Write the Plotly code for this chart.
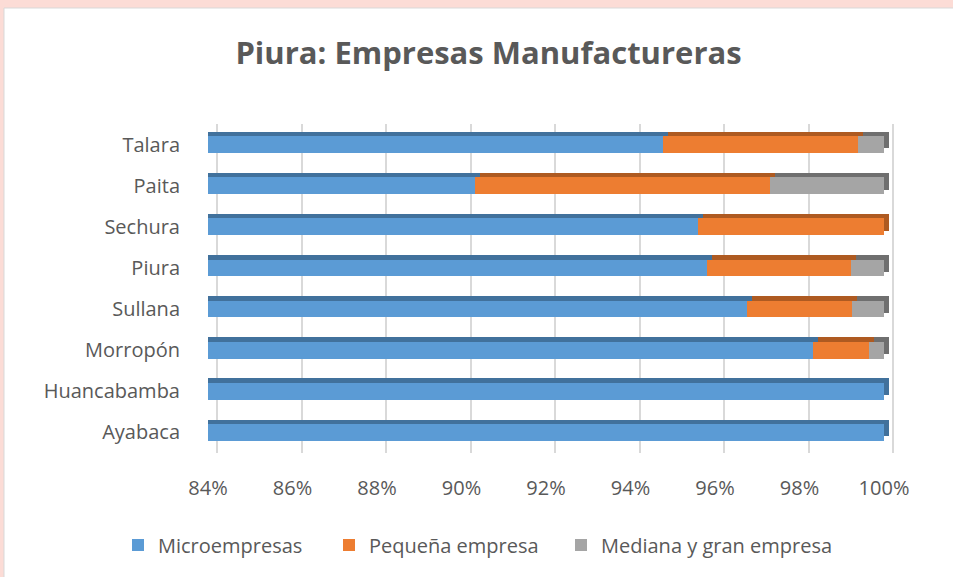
import plotly.graph_objects as go

categories = ["Ayabaca", "Huancabamba", "Morropón", "Sullana", "Piura", "Sechura", "Paita", "Talara"]
micro = [100.0, 100.0, 98.32, 96.76, 95.81, 95.60, 90.32, 94.77]
pequena = [0.0, 0.0, 1.33, 2.48, 3.42, 4.40, 6.98, 4.61]
mediana = [0.0, 0.0, 0.35, 0.76, 0.77, 0.0, 2.70, 0.62]
series_names = ["Microempresas", "Pequeña empresa", "Mediana y gran empresa"]
tick_vals = [84, 86, 88, 90, 92, 94, 96, 98, 100]
tick_text = ["84%", "86%", "88%", "90%", "92%", "94%", "96%", "98%", "100%"]

front_colors = ["#5B9BD5", "#ED7D31", "#A5A5A5"]
depth_colors = ["#41719C", "#AE5A21", "#6F6F6F"]

W, H = 953, 577
ML, MR, MT, MB = 208, 53, 124, 124
plot_w = W - ML - MR
px_per_unit = 676 / 16.0
x_lo = 84.0
x_hi = x_lo + plot_w / px_per_unit
plot_h = H - MT - MB
px_per_cat = plot_h / 8.0

depth_dx = 5 / px_per_unit
depth_dy = 4.5 / px_per_cat
grid_dx = 9 / px_per_unit

fig = go.Figure()
values = [micro, pequena, mediana]
legend_ids = ["legend", "legend2", "legend3"]
legend_text_x = [158, 369, 601]

# depth (3D top/side) bars on the main axes, drawn beneath
for vals, name, c in zip(values, series_names, depth_colors):
    fig.add_trace(go.Bar(y=categories, x=vals, orientation="h", name=name,
                         marker=dict(color=c, line=dict(width=0)),
                         showlegend=False, hoverinfo="skip",
                         xaxis="x", yaxis="y"))
# front faces
for vals, name, c, lg in zip(values, series_names, front_colors, legend_ids):
    fig.add_trace(go.Bar(y=categories, x=vals, orientation="h", name=name,
                         marker=dict(color=c, line=dict(width=0)),
                         legend=lg, xaxis="x2", yaxis="y2"))
# gridline carrier
fig.add_trace(go.Scatter(x=[], y=[], xaxis="x3", yaxis="y", showlegend=False, hoverinfo="skip"))

font_family = "'Open Sans', sans-serif"
txt = "#595959"

legends = {}
for lg, tx in zip(legend_ids, legend_text_x):
    legends[lg] = dict(orientation="h", xref="container", yref="container",
                       x=(tx - 40) / W, xanchor="left", y=1 - 545 / H, yanchor="middle",
                       font=dict(size=20, color=txt, family=font_family),
                       bgcolor="rgba(0,0,0,0)")

fig.update_layout(
    width=W, height=H,
    margin=dict(l=ML, r=MR, t=MT, b=MB),
    paper_bgcolor="#fcdcd6",
    plot_bgcolor="rgba(0,0,0,0)",
    barmode="stack",
    bargap=0.59,
    font=dict(family=font_family, color=txt, size=20),
    title=dict(text="<b>Piura: Empresas Manufactureras</b>",
               x=488.5 / W, xref="container", xanchor="center",
               y=1 - 53 / H, yref="container", yanchor="middle",
               font=dict(size=31, color=txt, family=font_family)),
    xaxis=dict(range=[x_lo - depth_dx, x_hi - depth_dx], showgrid=False, zeroline=False,
               showticklabels=False, showline=False, ticks=""),
    yaxis=dict(type="category", categoryorder="array", categoryarray=categories,
               range=[-0.5 - depth_dy, 7.5 - depth_dy], showgrid=False, zeroline=False,
               showticklabels=False, showline=False, ticks=""),
    xaxis2=dict(overlaying="x", side="bottom", range=[x_lo, x_hi], showgrid=False,
                zeroline=False, showline=False, ticks="",
                tickvals=tick_vals, ticktext=tick_text, ticklabelstandoff=21,
                tickfont=dict(size=20, color=txt)),
    yaxis2=dict(overlaying="y", side="left", type="category", categoryorder="array",
                categoryarray=categories, range=[-0.5, 7.5], showgrid=False,
                zeroline=False, showline=False, ticks="", ticklabelstandoff=27,
                tickfont=dict(size=20, color=txt)),
    xaxis3=dict(overlaying="x", range=[x_lo - grid_dx, x_hi - grid_dx], showgrid=True,
                gridcolor="#d9d9d9", gridwidth=2, tickvals=tick_vals,
                showticklabels=False, zeroline=False, showline=False, ticks=""),
    shapes=[dict(type="rect", xref="paper", yref="paper",
                 x0=(4 - ML) / plot_w, x1=(W + 5 - ML) / plot_w,
                 y0=-(MB + 5) / plot_h, y1=1 + (MT - 8) / plot_h,
                 fillcolor="white", line=dict(color="#d9d9d9", width=1), layer="below")],
    **legends,
)

fig.write_html("out.html", config={"displayModeBar": False},
               post_script="document.body.style.margin='0';")
